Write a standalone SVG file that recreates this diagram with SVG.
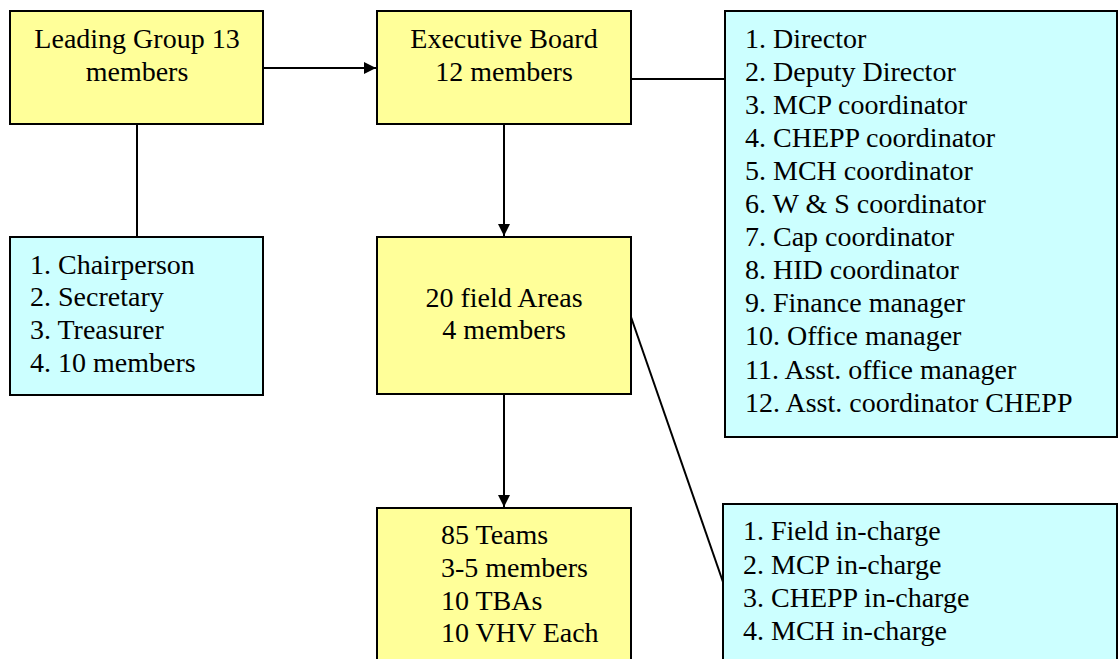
<svg xmlns="http://www.w3.org/2000/svg" width="1118" height="659" viewBox="0 0 1118 659">
<style>
.y{fill:#FFFF99;stroke:#000;stroke-width:2}
.c{fill:#CCFFFF;stroke:#000;stroke-width:2}
text{font-family:"Liberation Serif","Times New Roman",serif;font-size:28px;fill:#000}
.m{text-anchor:middle}
.ln{stroke:#000;stroke-width:2;fill:none}
</style>
<defs>
<marker id="ah" markerWidth="12" markerHeight="12" refX="12" refY="6" orient="auto" markerUnits="userSpaceOnUse">
<path d="M0,0 L12,6 L0,12 Z" fill="#000"/>
</marker>
</defs>
<g id="connectors">
<line class="ln" x1="263" y1="68" x2="376" y2="68" marker-end="url(#ah)"/>
<line class="ln" x1="631" y1="79" x2="725" y2="79"/>
<line class="ln" x1="137" y1="124" x2="137" y2="237"/>
<line class="ln" x1="504" y1="124" x2="504" y2="236" marker-end="url(#ah)"/>
<line class="ln" x1="504" y1="394" x2="504" y2="507" marker-end="url(#ah)"/>
<line class="ln" x1="631" y1="317" x2="723" y2="582"/>
</g>
<g id="leading-group">
<rect class="y" x="10" y="11" width="253" height="113"/>
<text class="m" x="137" y="48">Leading Group 13</text>
<text class="m" x="137" y="81">members</text>
</g>
<g id="executive-board">
<rect class="y" x="377" y="11" width="254" height="113"/>
<text class="m" x="504" y="48">Executive Board</text>
<text class="m" x="504" y="81">12 members</text>
</g>
<g id="board-members">
<rect class="c" x="725" y="11" width="392" height="426"/>
<text x="745" y="48">1. Director</text>
<text x="745" y="81">2. Deputy Director</text>
<text x="745" y="114">3. MCP coordinator</text>
<text x="745" y="147">4. CHEPP coordinator</text>
<text x="745" y="180">5. MCH coordinator</text>
<text x="745" y="213">6. W &amp; S coordinator</text>
<text x="745" y="246">7. Cap coordinator</text>
<text x="745" y="279">8. HID coordinator</text>
<text x="745" y="312">9. Finance manager</text>
<text x="745" y="345">10. Office manager</text>
<text x="745" y="379">11. Asst. office manager</text>
<text x="745" y="412">12. Asst. coordinator CHEPP</text>
</g>
<g id="leading-members">
<rect class="c" x="10" y="237" width="253" height="158"/>
<text x="30" y="274">1. Chairperson</text>
<text x="30" y="306">2. Secretary</text>
<text x="30" y="339">3. Treasurer</text>
<text x="30" y="372">4. 10 members</text>
</g>
<g id="field-areas">
<rect class="y" x="377" y="237" width="254" height="157"/>
<text class="m" x="504" y="307">20 field Areas</text>
<text class="m" x="504" y="339">4 members</text>
</g>
<g id="teams">
<rect class="y" x="377" y="508" width="254" height="160"/>
<text x="441" y="544">85 Teams</text>
<text x="441" y="577">3-5 members</text>
<text x="441" y="610">10 TBAs</text>
<text x="441" y="642">10 VHV Each</text>
</g>
<g id="field-incharge">
<rect class="c" x="723" y="504" width="394" height="165"/>
<text x="743" y="540">1. Field in-charge</text>
<text x="743" y="574">2. MCP in-charge</text>
<text x="743" y="607">3. CHEPP in-charge</text>
<text x="743" y="640">4. MCH in-charge</text>
</g>
</svg>
